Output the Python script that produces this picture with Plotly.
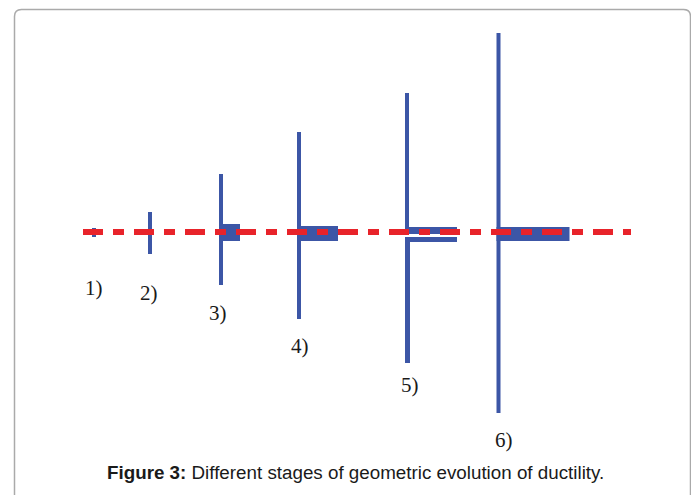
import plotly.graph_objects as go

# stages of the geometric evolution (pixel-like units, dashed axis at y = 0)
stage_labels = ["1)", "2)", "3)", "4)", "5)", "6)"]
stage_x = [94, 150, 221, 299, 407, 498.5]
upper_len = [4, 20, 58, 100, 139, 199]
lower_len = [5, 22, 53, 87, 131, 181]
bar_len = [0, 0, 19, 39, 50, 71]
bar_top = [0, 0, 8, 6, 5, 5]
bar_bottom = [0, 0, -9, -9, -10, -9]
gap_top = [None, None, None, None, -2, None]
gap_bottom = [None, None, None, None, -5, None]
label_x = [94, 149, 217.5, 300, 410, 504]
label_y = [-56, -60.5, -81, -114, -153, -208]

axis_start, axis_end = 83, 631

BLUE = "#3c56a6"
RED = "#e8232a"

fig = go.Figure()

for i in range(len(stage_x)):
    sx = stage_x[i]
    # vertical stem
    fig.add_trace(go.Scatter(
        x=[sx, sx], y=[upper_len[i], -lower_len[i]],
        mode="lines", line=dict(color=BLUE, width=4), hoverinfo="skip"))
    # horizontal flange
    if bar_len[i] > 0:
        x0, x1 = sx - 2, sx + bar_len[i]
        fig.add_trace(go.Scatter(
            x=[x0, x1, x1, x0, x0],
            y=[bar_top[i], bar_top[i], bar_bottom[i], bar_bottom[i], bar_top[i]],
            mode="lines", fill="toself", fillcolor=BLUE,
            line=dict(color=BLUE, width=0), hoverinfo="skip"))
    # split (necking) gap
    if gap_top[i] is not None:
        x0, x1 = sx - 4, sx + bar_len[i] + 2
        fig.add_trace(go.Scatter(
            x=[x0, x1, x1, x0, x0],
            y=[gap_top[i], gap_top[i], gap_bottom[i], gap_bottom[i], gap_top[i]],
            mode="lines", fill="toself", fillcolor="white",
            line=dict(color="white", width=0), hoverinfo="skip"))
        # lower stem restarts below the gap, shifted slightly
        fig.add_trace(go.Scatter(
            x=[sx + 1, sx + 1], y=[gap_bottom[i], -lower_len[i]],
            mode="lines", line=dict(color=BLUE, width=4), hoverinfo="skip"))
        x0b = sx - 1
        fig.add_trace(go.Scatter(
            x=[x0b, x1 - 2, x1 - 2, x0b, x0b],
            y=[gap_bottom[i], gap_bottom[i], bar_bottom[i], bar_bottom[i], gap_bottom[i]],
            mode="lines", fill="toself", fillcolor=BLUE,
            line=dict(color=BLUE, width=0), hoverinfo="skip"))

# red dashed axis
fig.add_trace(go.Scatter(
    x=[axis_start, axis_end], y=[0, 0], mode="lines",
    line=dict(color=RED, width=6, dash="20px,10px,11px,10px"), hoverinfo="skip"))

for i, lab in enumerate(stage_labels):
    fig.add_annotation(
        x=label_x[i], y=label_y[i], text=lab, showarrow=False,
        font=dict(family="Liberation Serif", size=21, color="#1a1a1a"))

# caption
fig.add_annotation(
    x=355.5, y=-240, text="<b>Figure 3:</b> Different stages of geometric evolution of ductility.",
    showarrow=False, font=dict(family="Liberation Sans", size=18.8, color="#1a1a1a"))

# rounded frame (top kept just inside the plot area so it is not clipped)
L, R, T, B, r = 14.5, 690.5, 222.5, -290, 7
fig.add_shape(
    type="path",
    path=f"M {L},{B} L {L},{T - r} Q {L},{T} {L + r},{T} L {R - r},{T} Q {R},{T} {R},{T - r} L {R},{B}",
    line=dict(color="#aaaaaa", width=1.5), layer="below")

# page body has an 8px margin, so the axis ranges are shifted to keep pixel alignment
fig.update_layout(
    width=699, height=495,
    margin=dict(l=0, r=0, t=0, b=0),
    showlegend=False,
    plot_bgcolor="white", paper_bgcolor="white",
    xaxis=dict(range=[8, 707], visible=False, fixedrange=True),
    yaxis=dict(range=[-271, 224], visible=False, fixedrange=True),
)

fig.write_html("out.html")
